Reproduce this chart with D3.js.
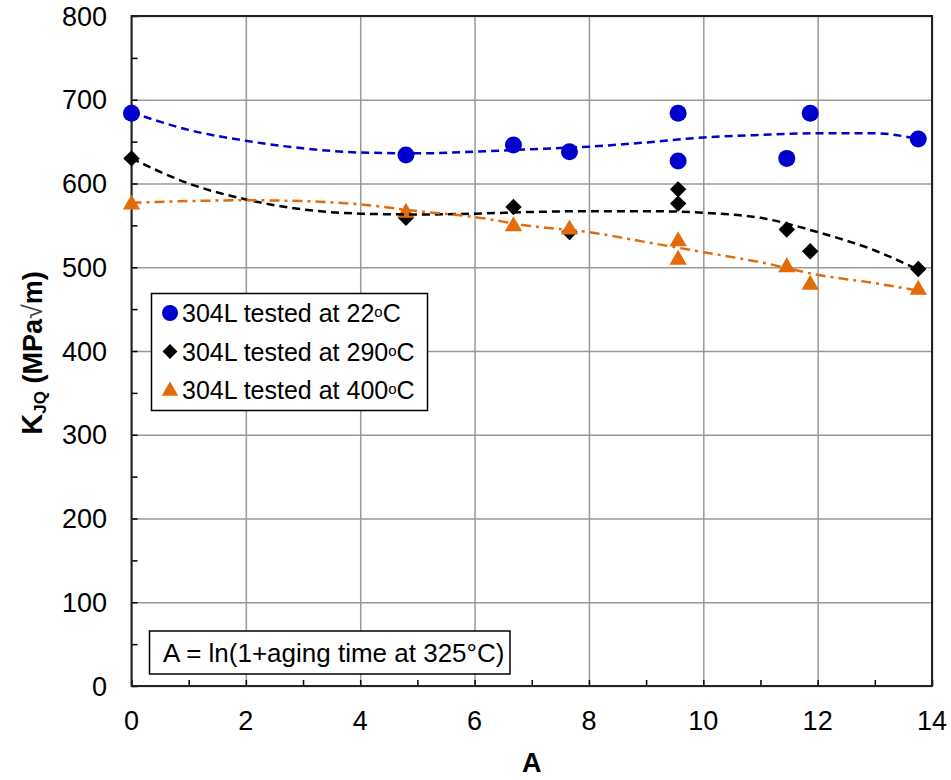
<!DOCTYPE html>
<html>
<head>
<meta charset="utf-8">
<script src="https://cdn.jsdelivr.net/npm/d3@7"></script>
<style>
  body { margin: 0; background: #fff; }
  svg { display: block; font-family: Arial, "Liberation Sans", sans-serif; }
</style>
</head>
<body>
<div id="chart"></div>
<script>
// aging parameter A for each specimen
const aging22 = [0, 4.8, 6.68, 7.66, 9.56, 9.56, 11.46, 11.87, 13.76];
const kjq22 = [684, 634, 646, 638, 684, 627, 630, 684, 653];

const aging290 = [0, 4.8, 6.68, 7.66, 9.56, 9.56, 11.46, 11.87, 13.76];
const kjq290 = [630, 559, 572, 542, 593, 576, 545, 519, 498];

const aging400 = [0, 4.8, 6.68, 7.66, 9.56, 9.56, 11.46, 11.87, 13.76];
const kjq400 = [575, 565, 549, 545, 531, 509, 500, 479, 473];

// trend curves
const fitA = [0, 1, 2, 3, 4, 5, 6, 7, 8, 9, 10, 11, 12, 13, 13.76];
const fit22 = [685, 664, 651, 642, 637, 636, 638, 641, 644, 649, 655, 658, 660, 660, 653];
const fit290 = [630, 600, 581, 569, 564, 563, 564, 566, 567, 567, 565, 559, 542, 520, 497];
const fit400 = [577, 579, 580, 579, 575, 567, 560, 549, 542, 530, 518, 506, 491, 481, 472];

const xTicks = [0, 2, 4, 6, 8, 10, 12, 14];
const yTicks = [0, 100, 200, 300, 400, 500, 600, 700, 800];

const legendLabels = ['304L tested at 22', '304L tested at 290', '304L tested at 400'];
const noteText = 'A = ln(1+aging time at 325°C)';

const width = 951;
const height = 780;
const plot = { left: 131.5, right: 932, top: 16, bottom: 686 };

const svg = d3.select('#chart')
  .append('svg')
  .attr('width', width)
  .attr('height', height);

const xScale = d3.scaleLinear().domain([0, 14]).range([plot.left, plot.right]);
const yScale = d3.scaleLinear().domain([0, 800]).range([plot.bottom, plot.top]);

// gridlines
svg.append('g')
  .attr('transform', `translate(0, ${plot.bottom})`)
  .call(d3.axisBottom(xScale).tickValues(xTicks).tickFormat('').tickSize(-(plot.bottom - plot.top)))
  .call(g => g.select('.domain').remove())
  .selectAll('line').attr('stroke', '#999').attr('stroke-width', 1.5);

svg.append('g')
  .attr('transform', `translate(${plot.left}, 0)`)
  .call(d3.axisLeft(yScale).tickValues(yTicks).tickFormat('').tickSize(-(plot.right - plot.left)))
  .call(g => g.select('.domain').remove())
  .selectAll('line').attr('stroke', '#999').attr('stroke-width', 1.5);

// minor ticks pointing inside
svg.append('g')
  .attr('transform', `translate(0, ${plot.bottom})`)
  .call(d3.axisBottom(xScale).ticks(14).tickFormat('').tickSize(-6))
  .call(g => g.select('.domain').remove())
  .selectAll('line').attr('stroke', '#000').attr('stroke-width', 1.5);

svg.append('g')
  .attr('transform', `translate(${plot.left}, 0)`)
  .call(d3.axisLeft(yScale).ticks(16).tickFormat('').tickSize(-6))
  .call(g => g.select('.domain').remove())
  .selectAll('line').attr('stroke', '#000').attr('stroke-width', 1.5);

// plot frame
svg.append('rect')
  .attr('x', plot.left)
  .attr('y', plot.top)
  .attr('width', plot.right - plot.left)
  .attr('height', plot.bottom - plot.top)
  .attr('fill', 'none')
  .attr('stroke', '#222')
  .attr('stroke-width', 2);

// tick labels
svg.append('g')
  .selectAll('text')
  .data(yTicks)
  .join('text')
  .attr('x', 107)
  .attr('y', d => yScale(d) + 9.5)
  .attr('text-anchor', 'end')
  .attr('font-size', 27)
  .text(d => d);

svg.append('g')
  .selectAll('text')
  .data(xTicks)
  .join('text')
  .attr('x', d => xScale(d))
  .attr('y', 730)
  .attr('text-anchor', 'middle')
  .attr('font-size', 27)
  .text(d => d);

// axis titles
svg.append('text')
  .attr('x', (plot.left + plot.right) / 2)
  .attr('y', 772)
  .attr('text-anchor', 'middle')
  .attr('font-size', 27)
  .attr('font-weight', 'bold')
  .text('A');

const yTitle = svg.append('text')
  .attr('transform', 'translate(42, 353) rotate(-90)')
  .attr('text-anchor', 'middle')
  .attr('font-size', 27)
  .attr('font-weight', 'bold');
yTitle.append('tspan').attr('font-size', 29).text('K');
yTitle.append('tspan').attr('font-size', 17).attr('dy', 4).text('JQ');
yTitle.append('tspan').attr('dy', -4).text(' (MPa');
yTitle.append('tspan').attr('font-weight', 'normal').attr('fill', '#444').text('√');
yTitle.append('tspan').text('m)');

// markers
const blue = '#0000cc';
const orange = '#e36c0a';

svg.append('g')
  .selectAll('circle')
  .data(d3.zip(aging22, kjq22))
  .join('circle')
  .attr('cx', d => xScale(d[0]))
  .attr('cy', d => yScale(d[1]))
  .attr('r', 8.5)
  .attr('fill', blue);

const diamond = d3.symbol().type(d3.symbolSquare).size(135);
const triangle = d3.symbol().type(d3.symbolTriangle).size(130);

svg.append('g')
  .selectAll('path')
  .data(d3.zip(aging290, kjq290))
  .join('path')
  .attr('d', diamond)
  .attr('transform', d => `translate(${xScale(d[0])}, ${yScale(d[1])}) rotate(45)`)
  .attr('fill', '#000');

svg.append('g')
  .selectAll('path')
  .data(d3.zip(aging400, kjq400))
  .join('path')
  .attr('d', triangle)
  .attr('transform', d => `translate(${xScale(d[0])}, ${yScale(d[1])})`)
  .attr('fill', orange);

// trend lines on top of markers
const line = d3.line()
  .x(d => xScale(d[0]))
  .y(d => yScale(d[1]))
  .curve(d3.curveMonotoneX);

svg.append('path')
  .datum(d3.zip(fitA, fit22))
  .attr('d', line)
  .attr('fill', 'none')
  .attr('stroke', blue)
  .attr('stroke-width', 2.5)
  .attr('stroke-dasharray', '8,5');

svg.append('path')
  .datum(d3.zip(fitA, fit290))
  .attr('d', line)
  .attr('fill', 'none')
  .attr('stroke', '#000')
  .attr('stroke-width', 2.5)
  .attr('stroke-dasharray', '8,5');

svg.append('path')
  .datum(d3.zip(fitA, fit400))
  .attr('d', line)
  .attr('fill', 'none')
  .attr('stroke', orange)
  .attr('stroke-width', 2.5)
  .attr('stroke-dasharray', '10,5,3,5');

// legend
const legend = svg.append('g');
legend.append('rect')
  .attr('x', 151.5)
  .attr('y', 293.5)
  .attr('width', 276)
  .attr('height', 117)
  .attr('fill', '#fff')
  .attr('stroke', '#000')
  .attr('stroke-width', 1.5);

const legendY = [313, 351.5, 390];
legend.append('circle')
  .attr('cx', 170).attr('cy', legendY[0]).attr('r', 8).attr('fill', blue);
legend.append('path')
  .attr('d', d3.symbol().type(d3.symbolSquare).size(110))
  .attr('transform', `translate(170, ${legendY[1]}) rotate(45)`)
  .attr('fill', '#000');
legend.append('path')
  .attr('d', d3.symbol().type(d3.symbolTriangle).size(120))
  .attr('transform', `translate(170, ${legendY[2] + 1})`)
  .attr('fill', orange);

legendLabels.forEach((label, i) => {
  const t = legend.append('text')
    .attr('x', 182)
    .attr('y', legendY[i] + 9)
    .attr('font-size', 25);
  t.append('tspan').text(label);
  t.append('tspan').attr('font-size', 15).attr('dy', -5).text('o');
  t.append('tspan').attr('dy', 5).text('C');
});

// note box
svg.append('rect')
  .attr('x', 149.5)
  .attr('y', 631)
  .attr('width', 360.5)
  .attr('height', 43)
  .attr('fill', '#fff')
  .attr('stroke', '#000')
  .attr('stroke-width', 1.5);

svg.append('text')
  .attr('x', 163)
  .attr('y', 662)
  .attr('font-size', 26)
  .text(noteText);
</script>
</body>
</html>
